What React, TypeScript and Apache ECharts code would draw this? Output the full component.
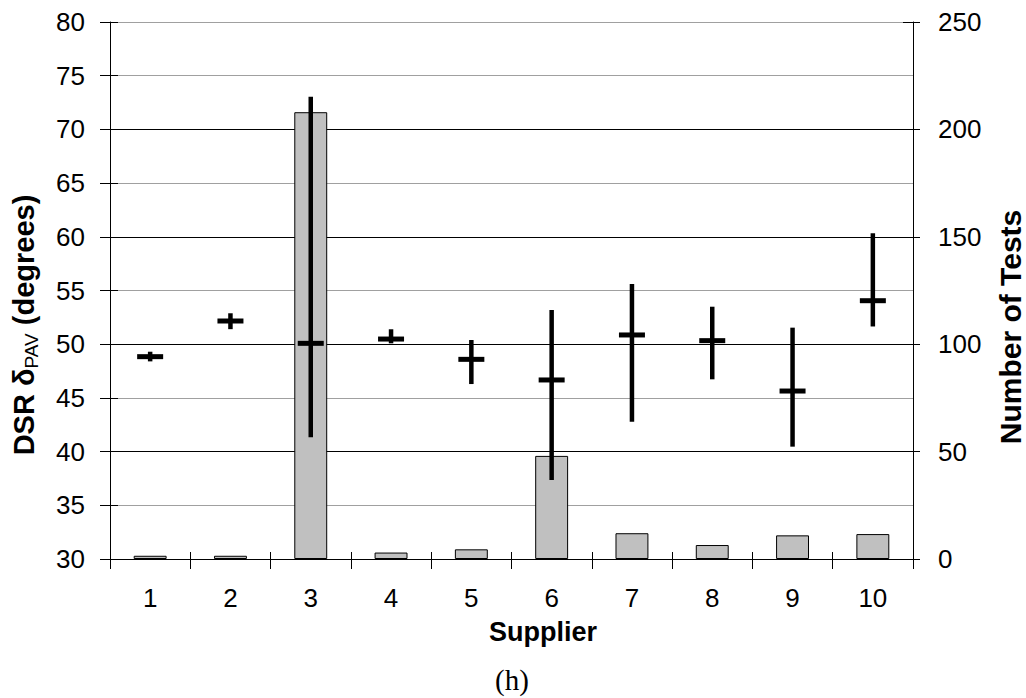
import React, { useEffect, useRef } from "react";
import * as echarts from "echarts";

const suppliers = ["1", "2", "3", "4", "5", "6", "7", "8", "9", "10"];
const numTests = [1.5, 1.5, 208, 3, 4.5, 48, 12, 6.5, 11, 11.6];
const meanDsr = [48.84, 52.16, 50.08, 50.48, 48.59, 46.67, 50.86, 50.33, 45.64, 54.05];
const lowDsr = [48.4, 51.4, 41.33, 50.08, 46.29, 37.36, 42.78, 46.73, 40.46, 51.65];
const highDsr = [49.3, 52.88, 73.04, 51.39, 50.39, 53.18, 55.6, 53.49, 51.54, 60.33];
const leftTicks = { min: 30, max: 80, interval: 5 };
const rightTicks = { min: 0, max: 250, interval: 50 };

const SANS = "'Liberation Sans', Arial, sans-serif";
const SERIF = "'Liberation Serif', 'Times New Roman', serif";

export default function App() {
  const ref = useRef<HTMLDivElement>(null);
  useEffect(() => {
    if (!ref.current) return;
    const chart = echarts.init(ref.current, null, { renderer: "svg" });
    const gridColors = ["#000", "#a0a0a0", "#000", "#a0a0a0", "#000", "#a0a0a0", "#000", "#a0a0a0", "#000", "#a0a0a0", "#a0a0a0"];
    const errData = suppliers.map((_, i) => [i, meanDsr[i], lowDsr[i], highDsr[i]]);
    chart.setOption({
      animation: false,
      backgroundColor: "#fff",
      grid: { left: 110, right: 113, top: 22, bottom: 139 },
      xAxis: [
        {
          type: "category",
          data: suppliers,
          position: "bottom",
          axisLine: { show: true, lineStyle: { color: "#000", width: 1 } },
          axisTick: { show: true, length: 10, lineStyle: { color: "#000" } },
          axisLabel: { fontSize: 26, color: "#000", fontFamily: SANS, margin: 26 },
          splitLine: { show: false },
        },
        {
          type: "category",
          data: suppliers,
          position: "bottom",
          axisLine: { show: false },
          axisTick: { show: true, inside: true, length: 7, lineStyle: { color: "#000" } },
          axisLabel: { show: false },
          splitLine: { show: false },
        },
      ],
      yAxis: [
        {
          type: "value",
          position: "left",
          min: leftTicks.min,
          max: leftTicks.max,
          interval: leftTicks.interval,
          axisLine: { show: true, lineStyle: { color: "#000", width: 1 } },
          axisTick: { show: true, length: 10, lineStyle: { color: "#000" } },
          axisLabel: { fontSize: 26, color: "#000", fontFamily: SANS, margin: 25 },
          splitLine: { show: true, lineStyle: { color: gridColors, width: 1 } },
        },
        {
          type: "value",
          position: "right",
          min: rightTicks.min,
          max: rightTicks.max,
          interval: rightTicks.interval,
          axisLine: { show: true, lineStyle: { color: "#000", width: 1 } },
          axisTick: { show: true, length: 7, lineStyle: { color: "#000" } },
          axisLabel: { fontSize: 26, color: "#000", fontFamily: SANS, margin: 25 },
          splitLine: { show: false },
        },
        {
          type: "value",
          position: "left",
          min: leftTicks.min,
          max: leftTicks.max,
          interval: leftTicks.interval,
          axisLine: { show: false },
          axisTick: { show: true, inside: true, length: 8, lineStyle: { color: "#000" } },
          axisLabel: { show: false },
          splitLine: { show: false },
        },
        {
          type: "value",
          position: "right",
          min: rightTicks.min,
          max: rightTicks.max,
          interval: rightTicks.interval,
          axisLine: { show: false },
          axisTick: { show: true, inside: true, length: 10, lineStyle: { color: "#000" } },
          axisLabel: { show: false },
          splitLine: { show: false },
        },
      ],
      series: [
        {
          type: "bar",
          name: "Number of Tests",
          xAxisIndex: 0,
          yAxisIndex: 1,
          data: numTests,
          barWidth: "41%",
          itemStyle: { color: "#c0c0c0", borderColor: "#000", borderWidth: 1 },
          z: 2,
        },
        {
          type: "custom",
          name: "DSR",
          xAxisIndex: 0,
          yAxisIndex: 0,
          data: errData,
          encode: { x: 0, y: [1, 2, 3] },
          z: 5,
          renderItem: (params: any, api: any) => {
            const x = api.value(0);
            const pLo = api.coord([x, api.value(2)]);
            const pHi = api.coord([x, api.value(3)]);
            const pM = api.coord([x, api.value(1)]);
            return {
              type: "group",
              children: [
                {
                  type: "line",
                  shape: { x1: pLo[0], y1: pLo[1], x2: pHi[0], y2: pHi[1] },
                  style: { stroke: "#000", lineWidth: 4.5 },
                },
                {
                  type: "line",
                  shape: { x1: pM[0] - 13, y1: pM[1], x2: pM[0] + 13, y2: pM[1] },
                  style: { stroke: "#000", lineWidth: 5 },
                },
              ],
            };
          },
        },
      ],
      graphic: [
        {
          type: "text",
          x: 24,
          y: 325,
          rotation: Math.PI / 2,
          style: {
            text: "{m|DSR δ}{s|PAV}{m| (degrees)}",
            align: "center",
            verticalAlign: "middle",
            fill: "#000",
            rich: {
              m: { fontSize: 29, fontWeight: "bold", fontFamily: SANS, lineHeight: 34, verticalAlign: "middle" },
              s: { fontSize: 19, fontFamily: SANS, lineHeight: 14, verticalAlign: "bottom" },
            },
          },
        },
        {
          type: "text",
          x: 1010,
          y: 327,
          rotation: Math.PI / 2,
          style: {
            text: "Number of Tests",
            align: "center",
            verticalAlign: "middle",
            fill: "#000",
            font: `bold 30px ${SANS}`,
          },
        },
        {
          type: "text",
          x: 543,
          y: 632,
          style: {
            text: "Supplier",
            align: "center",
            verticalAlign: "middle",
            fill: "#000",
            font: `bold 27px ${SANS}`,
          },
        },
        {
          type: "text",
          x: 512,
          y: 680,
          style: {
            text: "(h)",
            align: "center",
            verticalAlign: "middle",
            fill: "#000",
            font: `29px ${SERIF}`,
          },
        },
      ],
    });
    return () => chart.dispose();
  }, []);
  return (
    <div
      ref={ref}
      style={{ position: "fixed", left: 0, top: 0, width: 1026, height: 698, background: "#fff" }}
    />
  );
}
